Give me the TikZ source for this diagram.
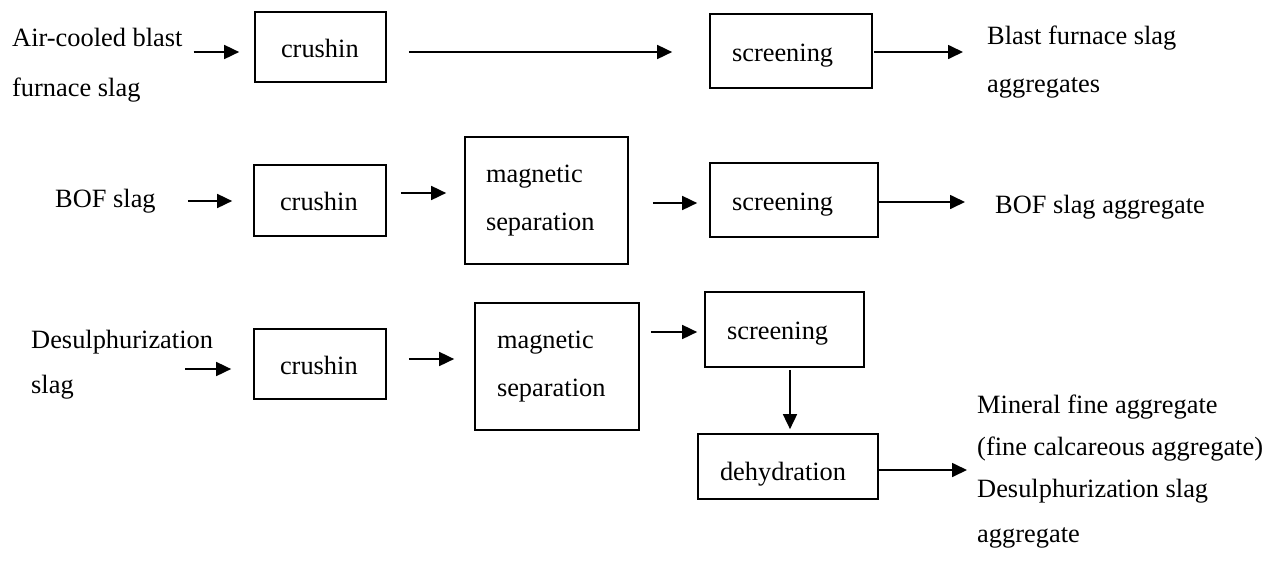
\documentclass[tikz,border=0pt]{standalone}
\usepackage{fontspec}
\setmainfont{Liberation Serif}
\usetikzlibrary{arrows.meta,calc}
\tikzset{
  txt/.style={inner sep=0pt, anchor=base west, font=\fontsize{26.4}{48}\selectfont},
  pbox/.style n args={3}{draw, line width=1.7pt, inner ysep=0pt, minimum height=#2,
    inner xsep=#3, text width=#1, align=left, text height=20pt, text depth=0pt,
    font=\fontsize{26.4}{48}\selectfont},
  mbox/.style n args={3}{draw, line width=1.7pt, inner ysep=0pt, minimum height=#2,
    inner xsep=#3, text width=#1, align=left,
    font=\fontsize{26.4}{48}\selectfont},
  arr/.style={line width=1.7pt, -{Triangle[length=15pt,width=14pt]}}
}
\begin{document}
\begin{tikzpicture}[x=1pt,y=-1pt]
\useasboundingbox (0,0) rectangle (1287,560);
% texts
\node[txt] (a1) at (12,46) {Air-cooled blast};
\node[txt] (a2) at (12,96) {furnace slag};
\node[txt] (o1a) at (987,44) {Blast furnace slag};
\node[txt] (o1b) at (987,92) {aggregates};
\node[txt] (b2) at (55,207) {BOF slag};
\node[txt] (o2) at (995,213) {BOF slag aggregate};
\node[txt] (d3a) at (31,348) {Desulphurization};
\node[txt] (d3b) at (31,393) {slag};
\node[txt] (o3a) at (977,413) {Mineral fine aggregate};
\node[txt] (o3b) at (977,455) {(fine calcareous aggregate)};
\node[txt] (o3c) at (977,497) {Desulphurization slag};
\node[txt] (o3d) at (977,542) {aggregate};
% boxes
\node[pbox={79pt}{70pt}{26pt}] (c1) at (320.5,47) {crushin};
\node[pbox={118pt}{74pt}{22pt}] (s1) at (791,51) {screening};
\node[pbox={80pt}{71pt}{26pt}] (c2) at (320,200.5) {crushin};
\node[mbox={121pt}{127pt}{21pt}] (m2) at (546.5,200.5) {magnetic\\separation};
\node[pbox={124pt}{74pt}{22pt}] (s2) at (794,200) {screening};
\node[pbox={80pt}{70pt}{26pt}] (c3) at (320,364) {crushin};
\node[mbox={120pt}{127pt}{22pt}] (m3) at (557,366.5) {magnetic\\separation};
\node[pbox={115pt}{75pt}{22pt}] (s3) at (784.5,329.5) {screening};
\node[pbox={136pt}{65pt}{22pt}, text height=27pt] (d3) at (788,466.5) {dehydration};
% arrows row 1
\draw[arr] ($(a1.base east)+(11,6)$) -- ($(c1.west)+(-15,5)$);
\draw[arr] ($(c1.east)+(22,5)$) -- ($(s1.west)+(-37,1)$);
\draw[arr] ($(s1.east)+(1,1)$) -- ($(o1a.base west)+(-24,8)$);
% arrows row 2
\draw[arr] ($(b2.base east)+(32,-6)$) -- ($(c2.west)+(-21,0.5)$);
\draw[arr] ($(c2.east)+(14,-7.5)$) -- ($(m2.west)+(-18,-7.5)$);
\draw[arr] ($(m2.east)+(24,2.5)$) -- ($(s2.west)+(-12,3)$);
\draw[arr] ($(s2.east)+(0,2)$) -- ($(o2.base west)+(-30,-11)$);
% arrows row 3
\draw[arr] ($(d3a.base east)+(-28,21)$) -- ($(c3.west)+(-22,5)$);
\draw[arr] ($(c3.east)+(22,-5)$) -- ($(m3.west)+(-20,-7.5)$);
\draw[arr] ($(m3.east)+(11,-34.5)$) -- ($(s3.west)+(-7,2.5)$);
\draw[arr] ($(s3.south)+(5.5,2)$) -- ($(d3.north)+(2,-4)$);
\draw[arr] ($(d3.east)+(0,3.5)$) -- ($(o3a.base west)+(-10,57)$);
\end{tikzpicture}
\end{document}
